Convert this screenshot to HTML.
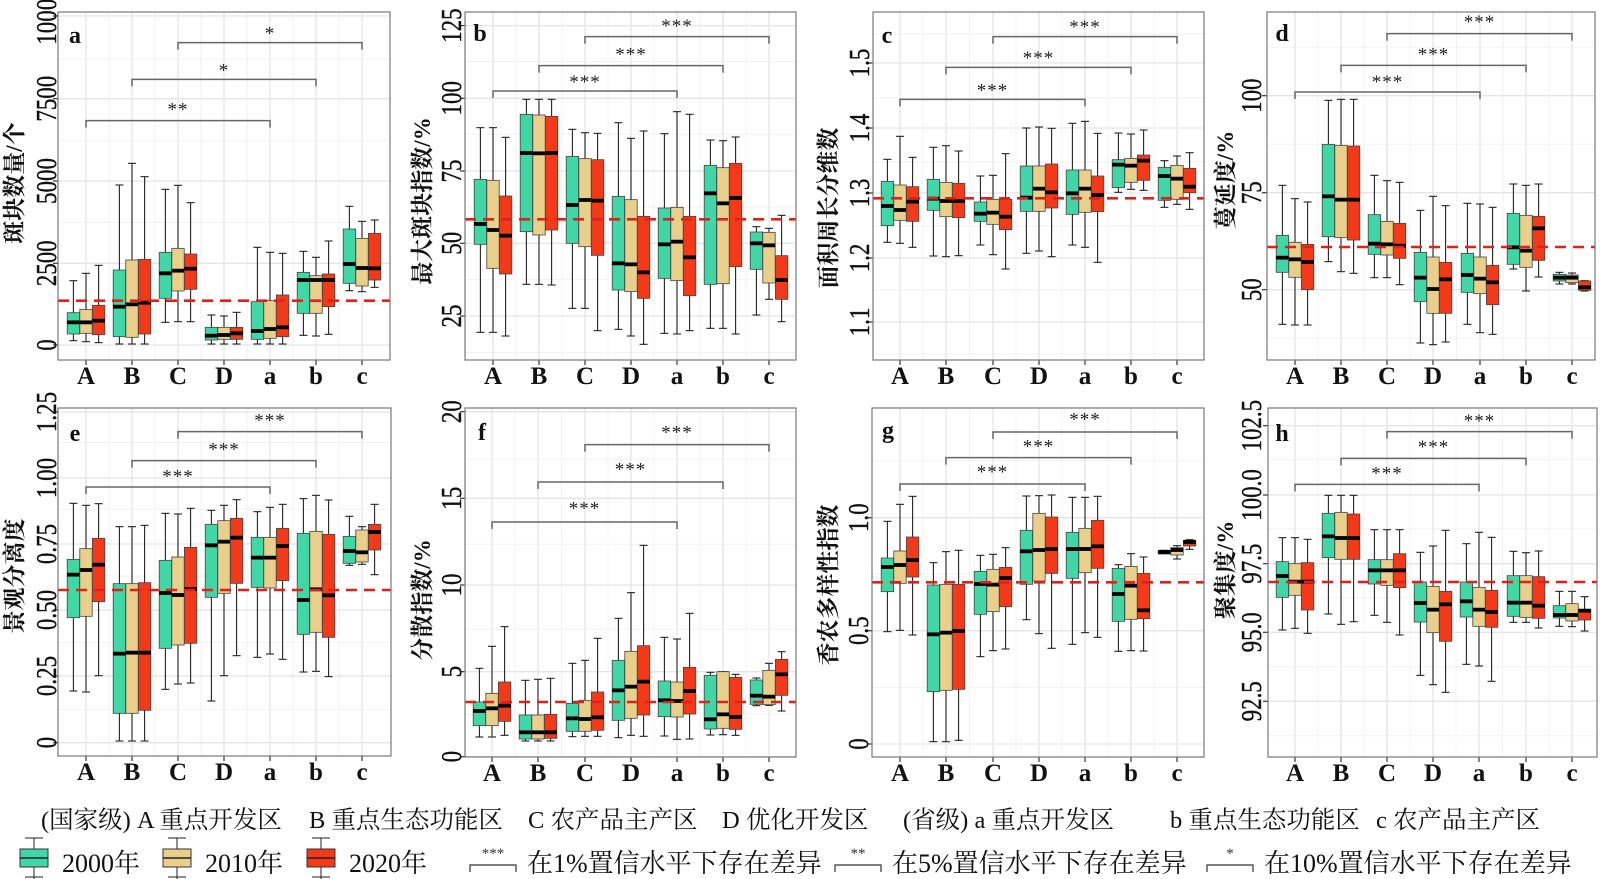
<!DOCTYPE html>
<html><head><meta charset="utf-8"><style>
html,body{margin:0;padding:0;background:#fff;}
svg{display:block;}
</style></head><body>
<svg id="s" width="1600" height="879" xmlns="http://www.w3.org/2000/svg" font-family="Liberation Serif, Noto Serif CJK SC, serif"></svg>
<script>
const S=document.getElementById('s');let h='';
const COL=['#40d6a5','#e8cf8c','#f23a1a'];
const P=[
{r:[58,12,390,360],c:[86,132,178,224,270,316,362],yo:0,ticks:[[0,345],[2500,263.3],[5000,181],[7500,98.7],[10000,16]],tl:47,tt:14,ty:183,t:'斑块数量/个',L:'a',lp:[75,35],red:902,br:[[362,322],[238,205],[128,95]],st:['**','*','*'],
d:[[[842,938,967,1002,1022],[820,928,967,1000,1025],[796,916,962,1004,1028]],[[555,810,920,1010,1032],[490,780,913,1012,1032],[530,778,908,1002,1032]],[[568,757,820,895,967],[556,745,812,873,965],[608,762,806,868,965]],[[945,982,1007,1020,1032],[948,982,1005,1018,1032],[937,982,1000,1018,1032]],[[742,905,993,1018,1032],[757,902,987,1015,1032],[760,885,982,1010,1032]],[[754,817,840,940,1006],[772,827,840,940,1008],[723,822,840,920,1003]],[[619,687,792,850,872],[664,715,804,858,875],[660,700,805,840,862]]]},
{r:[465,12,796,360],c:[493,539,585,631,677,723,769],yo:0,ticks:[[25,316],[50,243.3],[75,171],[100,98.3],[125,25.6]],tl:452,tt:422,ty:201,t:'最大斑块指数/%',L:'b',lp:[480,33],red:658,br:[[273,240],[197,157],[110,72]],st:['***','***','***'],
d:[[[383,538,672,733,997],[383,541,690,805,997],[412,588,707,822,1008]],[[298,343,459,695,853],[298,345,460,705,853],[298,349,459,690,855]],[[388,469,615,730,925],[398,476,600,740,925],[400,479,602,766,992]],[[368,589,790,870,988],[415,599,793,875,1008],[393,649,817,895,1033]],[[401,624,733,835,1000],[335,622,725,842,1002],[343,649,772,887,992]],[[420,496,580,853,985],[422,503,610,851,985],[411,490,594,800,1002]],[[680,696,730,808,945],[685,697,736,849,898],[646,767,840,898,965]]]},
{r:[873,12,1204,360],c:[900,946,993,1039,1085,1131,1177],yo:0,ticks:[[1.1,322],[1.2,258],[1.3,193],[1.4,128],[1.5,63]],tl:860,tt:828,ty:208,t:'面积周长分维数',L:'c',lp:[887,35],red:595,br:[[298,265],[202,168],[110,75]],st:['***','***','***'],
d:[[[478,544,618,677,727],[409,555,630,661,730],[472,560,605,664,742]],[[442,538,596,631,768],[437,547,603,650,770],[453,550,603,653,767]],[[528,606,641,664,735],[526,598,638,673,764],[461,598,650,689,807]],[[384,498,593,634,760],[381,498,566,634,753],[385,492,577,624,770]],[[370,510,580,643,735],[364,510,566,637,742],[400,528,585,635,787]],[[399,479,494,563,577],[402,475,497,547,568],[390,465,482,541,571]],[[482,502,528,601,622],[468,496,536,598,613],[458,505,560,578,628]]]},
{r:[1267,12,1595,360],c:[1295,1341,1387,1433,1480,1526,1572],yo:0,ticks:[[50,289.7],[75,192.7],[100,95.7]],tl:1252,tt:1225,ty:180,t:'蔓延度/%',L:'d',lp:[1282,33],red:741,br:[[276,240],[196,157],[101,60]],st:['***','***','***'],
d:[[[556,706,773,817,973],[596,727,778,832,975],[606,733,786,869,975]],[[301,433,589,710,785],[298,436,599,713,815],[298,438,599,720,820]],[[526,644,731,763,833],[542,664,733,765,833],[547,670,737,775,854]],[[631,757,833,905,1029],[589,771,867,940,1034],[617,787,838,940,1026]],[[610,760,825,877,973],[612,771,836,881,998],[622,796,847,914,1003]],[[552,640,742,793,807],[556,646,752,802,873],[552,649,685,781,831]],[[817,823,833,843,852],[819,825,833,848,852],[842,843,862,871,873]]]},
{r:[58,408,391,756],c:[86,132,178,224,270,316,362],yo:395,ticks:[[0,742.7],[0.25,676],[0.5,610],[0.75,544],[1,478],[1.25,412]],tl:47,tt:14,ty:576,t:'景观分离度',L:'e',lp:[75,433],red:585,br:[[276,238],[197,157],[110,70]],st:['***','***','***'],fmt:v=>v===0?'0':v.toFixed(2),
d:[[[325,493,539,668,888],[331,461,525,664,891],[326,430,509,620,842]],[[395,566,776,955,1038],[395,566,773,955,1038],[391,563,773,946,1038]],[[355,496,594,760,883],[357,486,600,750,867],[340,457,582,745,864]],[[346,388,451,607,918],[331,377,440,595,842],[314,370,428,565,782]],[[350,427,488,577,787],[337,427,488,579,777],[328,400,453,557,793]],[[311,415,615,718,831],[301,409,583,712,829],[315,418,601,727,845]],[[364,424,468,505,511],[395,405,472,501,508],[328,388,411,465,539]]]},
{r:[465,408,796,757],c:[492,538,585,631,677,723,769],yo:395,ticks:[[0,756.7],[5,671.7],[10,585],[15,498.3],[20,411.7]],tl:452,tt:422,ty:600,t:'分散指数/%',L:'f',lp:[482,432],red:921,br:[[381,335],[261,217],[149,107]],st:['***','***','***'],
d:[[[820,921,948,992,1026],[754,895,940,992,1026],[695,861,932,979,1021]],[[856,960,1012,1032,1038],[853,960,1012,1032,1038],[850,958,1012,1030,1038]],[[805,925,970,1009,1025],[796,916,972,1009,1024],[730,891,967,1006,1024]],[[670,796,886,976,1028],[593,769,875,970,1021],[451,752,860,960,1024]],[[727,858,916,965,1023],[732,861,918,966,1033],[655,817,888,957,1032]],[[832,841,973,1002,1020],[830,830,958,1000,1019],[838,847,966,1003,1021]],[[849,855,902,928,932],[805,826,905,929,931],[770,793,838,901,948]]]},
{r:[872,408,1204,757],c:[900,946,993,1039,1085,1131,1177],yo:395,ticks:[[0,744],[0.5,630.7],[1,517.7]],tl:859,tt:828,ty:585,t:'香农多样性指数',L:'g',lp:[888,430],red:562,br:[[267,225],[188,148],[111,68]],st:['***','***','***'],fmt:v=>v===0?'0':v.toFixed(1),
d:[[[379,489,516,590,710],[328,468,510,565,706],[304,426,495,546,720]],[[503,570,718,890,1040],[470,568,713,886,1040],[466,568,708,883,1036]],[[481,529,567,658,785],[478,523,569,650,767],[458,517,549,635,762]],[[303,406,469,568,674],[302,355,465,558,716],[300,366,462,535,760]],[[307,412,462,550,748],[307,400,462,533,713],[304,376,454,520,727]],[[509,520,597,679,769],[476,514,572,673,767],[486,535,646,671,768]],[[466,466,471,477,476],[452,458,465,480,492],[434,436,441,453,463]]]},
{r:[1268,408,1597,757],c:[1295,1341,1387,1433,1479,1526,1572],yo:380,ticks:[[92.5,701.3],[95,632.3],[97.5,563.7],[100,495],[102.5,425.7]],tl:1252,tt:1225,ty:570,t:'聚集度/%',L:'h',lp:[1282,433],red:606,br:[[313,275],[235,195],[155,117]],st:['***','***','***'],fmt:v=>v.toFixed(1),
d:[[[473,545,588,652,750],[473,551,605,646,745],[478,548,605,690,760]],[[346,400,469,533,702],[346,397,474,538,733],[346,402,474,538,725]],[[449,539,571,612,706],[449,539,571,616,727],[449,521,571,623,765]],[[517,606,669,726,886],[498,619,689,758,914],[451,634,673,784,937]],[[491,606,664,711,853],[457,622,689,739,858],[472,631,696,742,904]],[[514,587,668,709,727],[518,587,668,712,727],[513,590,677,715,744]],[[634,677,705,714,739],[634,671,705,723,740],[650,688,692,720,753]]]}
];
P.forEach(p=>{
 const [x0,y0,x1,y1]=p.r;const Y=v=>p.yo+v/3;
 h+=`<rect x="${x0}" y="${y0}" width="${x1-x0}" height="${y1-y0}" fill="#fff"/>`;
 const tk=p.ticks;const st=tk[1][1]-tk[0][1];
 for(let k=-3;k<tk.length+3;k++){const y=tk[0][1]+st*k;const ym=y+st/2;
  if(ym>y0&&ym<y1)h+=`<line x1="${x0}" x2="${x1}" y1="${ym}" y2="${ym}" stroke="#f1f2f3" stroke-width="1"/>`;}
 for(let i=0;i<6;i++){const xm=(p.c[i]+p.c[i+1])/2;h+=`<line x1="${xm}" x2="${xm}" y1="${y0}" y2="${y1}" stroke="#f1f2f3"/>`;}
 tk.forEach(t=>{h+=`<line x1="${x0}" x2="${x1}" y1="${t[1]}" y2="${t[1]}" stroke="#e3e5e8" stroke-width="1.3"/>`;
  h+=`<line x1="${x0-5}" x2="${x0}" y1="${t[1]}" y2="${t[1]}" stroke="#333" stroke-width="1.2"/>`;
  const lab=p.fmt?p.fmt(t[0]):String(t[0]);
  h+=`<text transform="translate(${p.tl+9},${t[1]}) rotate(-90) scale(0.82,1)" font-size="28" text-anchor="middle" fill="#111" stroke="#111" stroke-width="0.4">${lab}</text>`;});
 p.c.forEach(c=>{h+=`<line x1="${c}" x2="${c}" y1="${y0}" y2="${y1}" stroke="#e3e5e8" stroke-width="1.3"/><line x1="${c}" x2="${c}" y1="${y1}" y2="${y1+5}" stroke="#333" stroke-width="1.2"/>`;});
 ['A','B','C','D','a','b','c'].forEach((l,i)=>{h+=`<text x="${p.c[i]}" y="${y1+24}" font-size="25" font-weight="bold" text-anchor="middle" fill="#111">${l}</text>`;});
 p.d.forEach((g,i)=>{g.forEach((b,j)=>{const cx=p.c[i]+(j-1)*12.6;const w=12.4;
  const [lo,q1,md,q3,hi]=b.map(Y);
  h+=`<line x1="${cx}" x2="${cx}" y1="${lo}" y2="${hi}" stroke="#222" stroke-width="1.1"/>`;
  h+=`<line x1="${cx-4}" x2="${cx+4}" y1="${lo}" y2="${lo}" stroke="#222" stroke-width="1.1"/><line x1="${cx-4}" x2="${cx+4}" y1="${hi}" y2="${hi}" stroke="#222" stroke-width="1.1"/>`;
  h+=`<rect x="${cx-w/2}" y="${q1}" width="${w}" height="${Math.max(q3-q1,1)}" fill="${COL[j]}" stroke="#444" stroke-width="0.8"/>`;
  h+=`<line x1="${cx-w/2}" x2="${cx+w/2}" y1="${md}" y2="${md}" stroke="#000" stroke-width="3.8"/>`;});});
 h+=`<line x1="${x0}" x2="${x1}" y1="${Y(p.red)}" y2="${Y(p.red)}" stroke="#e0201b" stroke-width="2.6" stroke-dasharray="11,7"/>`;
 p.br.forEach((b,k)=>{const xa=p.c[k],xb=p.c[k+4],y=Y(b[0]);
  h+=`<path d="M${xa},${y+7}V${y}H${xb}V${y+7}" fill="none" stroke="#666" stroke-width="1.5"/>`;
  h+=`<text x="${(xa+xb)/2}" y="${Y(b[1])+8}" font-size="19" text-anchor="middle" fill="#222" letter-spacing="1">${p.st[k]}</text>`;});
 h+=`<rect x="${x0}" y="${y0}" width="${x1-x0}" height="${y1-y0}" fill="none" stroke="#777" stroke-width="1.2"/>`;
 h+=`<text x="${p.lp[0]}" y="${p.lp[1]+8}" font-size="24" font-weight="bold" text-anchor="middle" fill="#111">${p.L}</text>`;
 h+=`<text transform="translate(${p.tt+8},${p.ty}) rotate(-90)" font-size="23" font-weight="bold" text-anchor="middle" fill="#111">${p.t}</text>`;
});
const r1=[[41,'(国家级) A  重点开发区'],[309,'B 重点生态功能区'],[528,'C 农产品主产区'],[722,'D 优化开发区'],[903,'(省级)  a 重点开发区'],[1170,'b 重点生态功能区'],[1376,'c 农产品主产区']];
r1.forEach(t=>{h+=`<text x="${t[0]}" y="828" font-size="24.5" fill="#111">${t[1]}</text>`;});
[[20,COL[0],'2000年'],[163,COL[1],'2010年'],[307,COL[2],'2020年']].forEach(l=>{const x=l[0],cx=x+14;
 h+=`<line x1="${cx}" x2="${cx}" y1="838" y2="879" stroke="#222"/><line x1="${cx-9}" x2="${cx+9}" y1="838" y2="838" stroke="#222"/><line x1="${cx-9}" x2="${cx+9}" y1="877" y2="877" stroke="#222"/>`;
 h+=`<rect x="${x}" y="849" width="28" height="18" fill="${l[1]}" stroke="#333" stroke-width="1"/><line x1="${x}" x2="${x+28}" y1="858" y2="858" stroke="#222" stroke-width="1.5"/>`;
 h+=`<text x="${x+42}" y="872" font-size="26" fill="#111">${l[2]}</text>`;});
[[470,'***','在1%置信水平下存在差异'],[835,'**','在5%置信水平下存在差异'],[1207,'*','在10%置信水平下存在差异']].forEach(l=>{const x=l[0];
 h+=`<path d="M${x},${872}V865H${x+46}V872" fill="none" stroke="#333" stroke-width="1.2"/>`;
 h+=`<text x="${x+23}" y="858" font-size="15" text-anchor="middle" fill="#333">${l[1]}</text>`;
 h+=`<text x="${x+57}" y="872" font-size="26" fill="#111">${l[2]}</text>`;});
S.innerHTML=h;
</script>
</body></html>
